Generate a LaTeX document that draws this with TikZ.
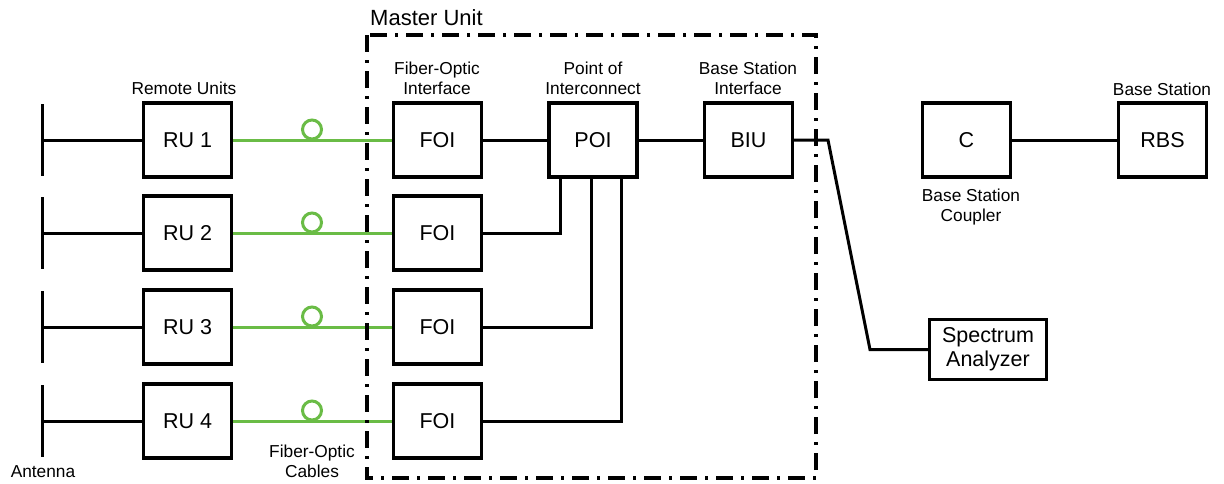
\documentclass[tikz,border=0pt]{standalone}
\usepackage{fontspec}
\setmainfont{Liberation Sans}
\usetikzlibrary{calc}
\definecolor{fibergreen}{RGB}{106,188,70}
\begin{document}
\begin{tikzpicture}[x=1pt,y=-1pt,
  box/.style={draw,line width=3.2pt,minimum width=88pt,minimum height=74pt,inner sep=0pt,font=\fontsize{21.5}{24}\selectfont},
  lbl/.style={align=center,inner sep=0pt,font=\fontsize{17.3}{20}\selectfont},
  wire/.style={line width=3pt},
  fiber/.style={line width=3pt,draw=fibergreen},
  loopc/.style={line width=3pt,draw=fibergreen},
  mubox/.style={line width=3.2pt,dash pattern=on 17pt off 8pt on 3pt off 8pt}]
\useasboundingbox (0,0) rectangle (1224,483);
% rows
\foreach \i/\y in {1/140,2/233,3/327,4/421}{
  \node[box] (ru\i) at (187.5,\y) {RU \i};
  \node[box] (f\i) at (437.5,\y) {FOI};
  \coordinate (at\i) at (42,\y-36);
  \coordinate (ab\i) at (42,\y+36);
  \coordinate (am\i) at (42,\y);
  \draw[wire] (at\i) -- (ab\i);
  \draw[wire] (am\i) -- (ru\i.west);
  \draw[fiber] (ru\i.east) -- (f\i.west);
  \coordinate (lp\i) at (312,\y-10.5);
  \draw[loopc] (lp\i) circle (9.5);
}
\node[box] (poi) at (593,140) {POI};
\node[box] (biu) at (748.5,140) {BIU};
\node[box] (c) at (966.5,140) {C};
\node[box] (rbs) at (1162.5,140) {RBS};
\node[box,minimum width=117pt,minimum height=60pt,align=center,font=\fontsize{21.5}{24}\selectfont] (sa) at (988,349.5) {Spectrum\\Analyzer};
% connections
\draw[wire] (f1.east) -- (poi.west);
\draw[wire] (poi.east) -- (biu.west);
\draw[wire] (c.east) -- (rbs.west);
\draw[wire] (f2.east) -| ($(poi.south)+(-33,0)$);
\draw[wire] (f3.east) -| ($(poi.south)+(-2,0)$);
\draw[wire] (f4.east) -| ($(poi.south)+(28,0)$);
\coordinate (k1) at (828,140);
\coordinate (k2) at (870,349.5);
\draw[wire] (biu.east) -- (k1) -- (k2) -- (sa.west);
% master unit
\draw[mubox] (367,35) rectangle (816,478);
\node[anchor=west,inner sep=0pt,font=\fontsize{22}{24}\selectfont] (mu) at (370,18) {Master Unit};
% labels
\node[lbl] (l1) at (184,88) {Remote Units};
\node[lbl] (l2) at (437,78) {Fiber-Optic\\Interface};
\node[lbl] (l3) at (593,78) {Point of\\Interconnect};
\node[lbl] (l4) at (748,78) {Base Station\\Interface};
\node[lbl] (l5) at (1162,89) {Base Station};
\node[lbl] (l6) at (971,207) {Base Station\\Coupler};
\node[lbl] (l7) at (43,472) {Antenna};
\node[lbl] (l8) at (312,461) {Fiber-Optic\\Cables};
\end{tikzpicture}
\end{document}
